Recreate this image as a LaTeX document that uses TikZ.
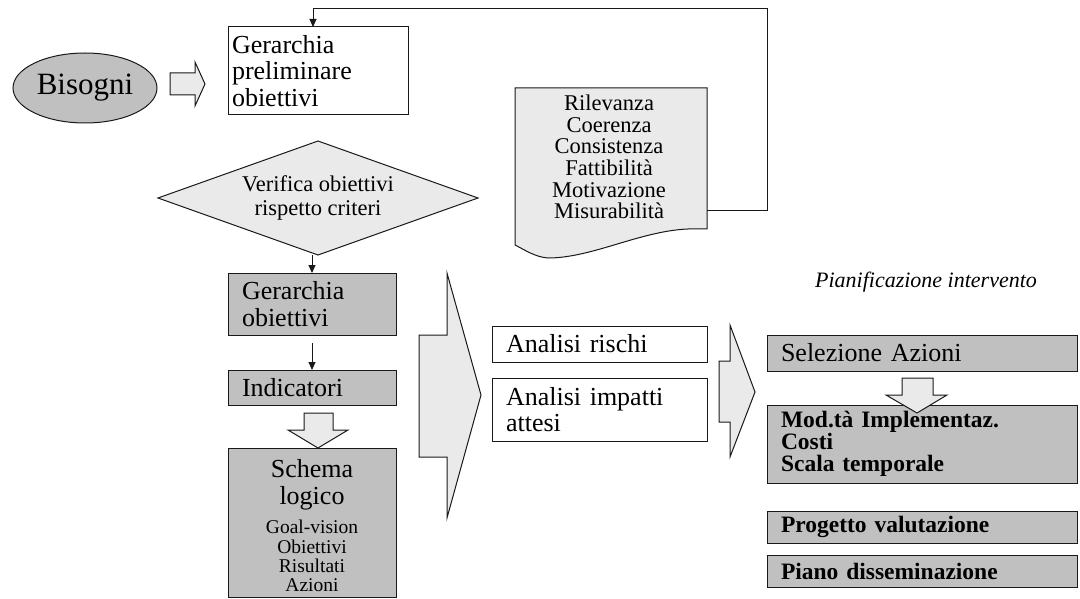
\documentclass[tikz,border=0pt]{standalone}
\usepackage{fontspec}
\setmainfont{Liberation Serif}
\usetikzlibrary{shapes.geometric,arrows.meta}
\definecolor{boxgray}{RGB}{192,192,192}
\definecolor{lightfill}{RGB}{234,234,234}
\definecolor{edge}{RGB}{25,25,25}
\newcommand\fsBig{\fontsize{31}{32}\selectfont}
\newcommand\fsMain{\fontsize{26}{26.7}\selectfont}
\newcommand\fsMid{\fontsize{22.5}{24}\selectfont}
\newcommand\fsDoc{\fontsize{22.5}{21.6}\selectfont}
\newcommand\fsSmall{\fontsize{19.5}{19}\selectfont}
\newcommand\fsBold{\fontsize{23.5}{22}\selectfont\bfseries}

\begin{document}
\begin{tikzpicture}[x=1pt,y=-1pt,line width=1pt,
  every node/.style={inner sep=0pt,outer sep=0pt},
  box/.style={draw=edge,rectangle,anchor=north west,align=left,inner xsep=14pt,font=\fsMain},
  graybox/.style={box,fill=boxgray},
  whitebox/.style={box,fill=white},
  blockarrow/.style={draw=edge,fill=lightfill,line join=miter},
  link/.style={draw=edge,-{Triangle[length=8pt,width=7pt]}}]

\useasboundingbox (0,0) rectangle (1080,599);

% needs
\node[draw=edge,fill=boxgray,ellipse,minimum width=144,minimum height=70,font=\fsBig] (needs) at (85,88) {Bisogni};
\draw[blockarrow] (170,73) -- (195,73) -- (195,62) -- (205,84) -- (195,106) -- (195,95) -- (170,95) -- cycle;

% preliminary hierarchy
\node[whitebox,inner xsep=4pt,minimum width=180,minimum height=88,text width=172] (gp) at (228,27)
  {Gerarchia\\preliminare\\obiettivi};

% criteria document
\draw[draw=edge,fill=lightfill] (515,88) -- (707,88) -- (707,229) -- (688,229)
  .. controls (640,231) and (592,258) .. (548,258)
  .. controls (535,257) and (525,250) .. (515,245) -- cycle;
\node[font=\fsDoc,align=center] (doc) at (609,157)
  {Rilevanza\\Coerenza\\Consistenza\\Fattibilità\\Motivazione\\Misurabilità};
\coordinate (docR) at (707,211);
\draw[link] (docR) -- (767,211) -- (767,9) -| ([xshift=-5pt]gp.north);

% verification
\node[draw=edge,fill=lightfill,diamond,aspect=2.8,minimum width=320,minimum height=114,
  font=\fsMid,align=center] (check) at (318,198) {Verifica obiettivi\\rispetto criteri};

% objectives hierarchy column
\node[graybox,minimum width=168,minimum height=62,text width=140] (gob) at (228,273)
  {Gerarchia\\obiettivi};
\node[graybox,minimum width=168,minimum height=35,text width=140] (ind) at (228,370)
  {Indicatori};
\node[graybox,minimum width=168,minimum height=148,text width=140,align=center] (sch) at (228,448)
  {\rule{0pt}{29pt}Schema\\[1pt]logico\\[9pt]{\fsSmall\begin{tabular}{@{}c@{}}Goal-vision\\Obiettivi\\Risultati\\Azioni\end{tabular}}};

\draw[link] (gob.north |- check.south) -- (gob.north);
\draw[link,shorten <=8pt] (gob.south) -- (ind.north);
\draw[blockarrow] (304,413) -- (333,413) -- (333,430) -- (348,430) -- (318,448)
  -- (288,430) -- (304,430) -- cycle;

% large arrow to the analyses
\draw[blockarrow] (419,335) -- (447,335) -- (447,273) -- (481,395) -- (447,518)
  -- (447,457) -- (419,457) -- cycle;

\node[whitebox,minimum width=215,minimum height=36,text width=187] (risk) at (492,326)
  {Analisi rischi};
\node[whitebox,minimum width=215,minimum height=63,text width=187] (impact) at (492,378)
  {Analisi impatti\\attesi};

\draw[blockarrow] (719,361) -- (730,361) -- (730,325) -- (755,392) -- (730,457)
  -- (730,422) -- (719,422) -- cycle;

% planning
\node[font=\fontsize{22}{24}\selectfont\itshape] (plan) at (926,282) {Pianificazione intervento};

\node[graybox,minimum width=310,minimum height=36,text width=282] (sel) at (767,335)
  {Selezione Azioni};
\node[graybox,font=\fsBold,minimum width=310,minimum height=78,text width=282,inner xsep=13pt] (mod) at (767,405)
  {Mod.tà Implementaz.\\Costi\\Scala temporale};
\draw[blockarrow] (902,378) -- (933,378) -- (933,395) -- (947,395) -- (917,413)
  -- (886,395) -- (902,395) -- cycle;
\node[graybox,font=\fsBold,minimum width=310,minimum height=32,text width=282,inner xsep=13pt] (eval) at (767,511)
  {Progetto valutazione};
\node[graybox,font=\fsBold,minimum width=310,minimum height=32,text width=282,inner xsep=13pt] (diss) at (767,555)
  {Piano disseminazione};

\end{tikzpicture}
\end{document}
